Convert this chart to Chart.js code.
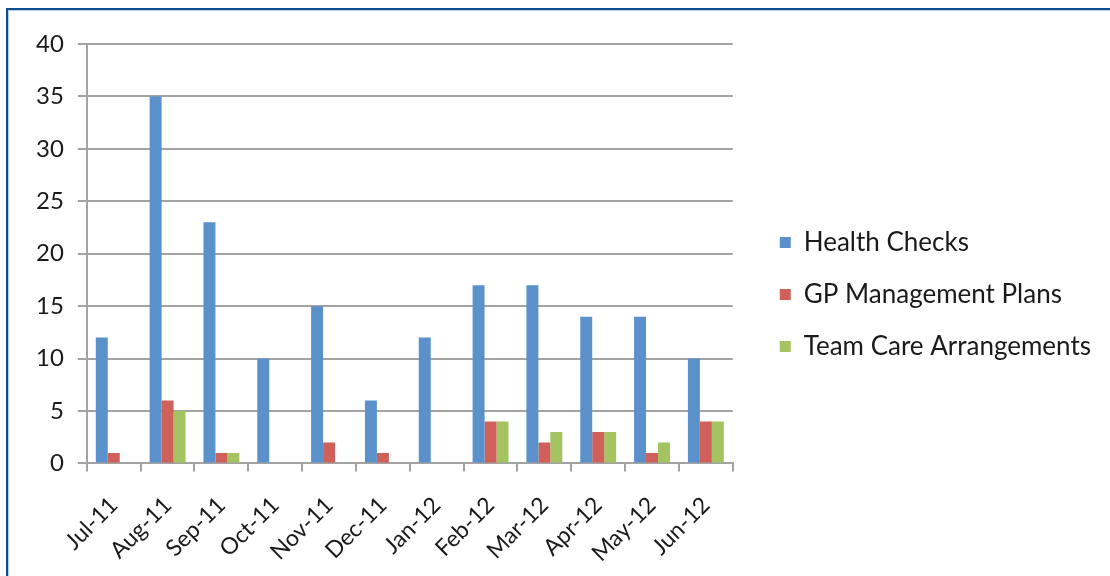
<!DOCTYPE html>
<html>
<head>
<meta charset="utf-8">
<script src="https://cdn.jsdelivr.net/npm/chart.js@4.4.1/dist/chart.umd.min.js"></script>
<style>
  body { margin: 0; background: #fff; }
  #wrap { position: relative; width: 1110px; height: 576px; overflow: hidden; }
  #frame {
    position: absolute; left: 6px; top: 8px; right: -4px; bottom: -4px;
    border-left: 2px solid #0f4c8c; border-top: 2px solid #0f4c8c;
    box-shadow: inset 1px 1px 0 #b9d0ea;
    pointer-events: none;
  }
  canvas { position: absolute; left: 0; top: 0; }
</style>
</head>
<body>
<div id="wrap">
  <canvas id="chart" width="1110" height="576"></canvas>
  <div id="frame"></div>
</div>
<script>
// months on the x axis
var months = ["Jul-11", "Aug-11", "Sep-11", "Oct-11", "Nov-11", "Dec-11",
              "Jan-12", "Feb-12", "Mar-12", "Apr-12", "May-12", "Jun-12"];

// series values
var healthChecks = [12, 35, 23, 10, 15, 6, 12, 17, 17, 14, 14, 10];
var gpPlans      = [1, 6, 1, 0, 2, 1, 0, 4, 2, 3, 1, 4];
var teamCare     = [0, 5, 1, 0, 0, 0, 0, 4, 3, 3, 2, 4];

// y axis ticks
var yMin = 0, yMax = 40, yStep = 5;

var font = "Lato, 'Open Sans', sans-serif";
var gridGrey = "#a3a3a3";
var textCol = "#1a1a1a";

// nudge the legend block up a little (it centres on the whole canvas height)
var legendLift = {
    id: 'legendLift',
    afterLayout: function (chart, args, opts) {
        chart.legend.top -= opts.by;
        chart.legend.bottom -= opts.by;
    }
};

var ctx = document.getElementById("chart");
var chart = new Chart(ctx, {
    type: 'bar',
    data: {
        labels: months,
        datasets: [
            { label: "Health Checks", data: healthChecks, backgroundColor: "#5b91cb" },
            { label: "GP Management Plans", data: gpPlans, backgroundColor: "#cf605a" },
            { label: "Team Care Arrangements", data: teamCare, backgroundColor: "#a4c462" }
        ]
    },
    plugins: [legendLift],
    options: {
        responsive: false,
        animation: false,
        datasets: {
            bar: { categoryPercentage: 0.667, barPercentage: 1.0 }
        },
        layout: { padding: { top: 44, left: 22, bottom: -11, right: 9 } },
        plugins: {
            tooltip: { enabled: false },
            legendLift: { by: 21 },
            legend: {
                position: 'right',
                maxWidth: 420,
                labels: {
                    boxWidth: 11,
                    boxHeight: 11,
                    padding: 26,
                    color: textCol,
                    font: { family: font, size: 26 }
                }
            }
        },
        scales: {
            x: {
                grid: {
                    offset: true,
                    drawOnChartArea: false,
                    drawTicks: true,
                    tickLength: 8,
                    color: gridGrey,
                    lineWidth: 2
                },
                border: { color: gridGrey, width: 2 },
                ticks: {
                    color: textCol,
                    font: { family: font, size: 23 },
                    minRotation: 45,
                    maxRotation: 45,
                    padding: 20
                }
            },
            y: {
                min: yMin,
                max: yMax,
                grid: {
                    color: gridGrey,
                    lineWidth: 2,
                    tickLength: 9
                },
                border: { color: gridGrey, width: 2 },
                ticks: {
                    stepSize: yStep,
                    padding: 14,
                    color: textCol,
                    font: { family: font, size: 24 }
                }
            },
            // empty spacer between plot and legend
            gap: {
                axis: 'y',
                position: 'right',
                display: true,
                grid: { display: false },
                border: { display: false },
                ticks: { display: false },
                afterFit: function (scale) { scale.width = 21; }
            }
        }
    }
});
</script>
</body>
</html>
